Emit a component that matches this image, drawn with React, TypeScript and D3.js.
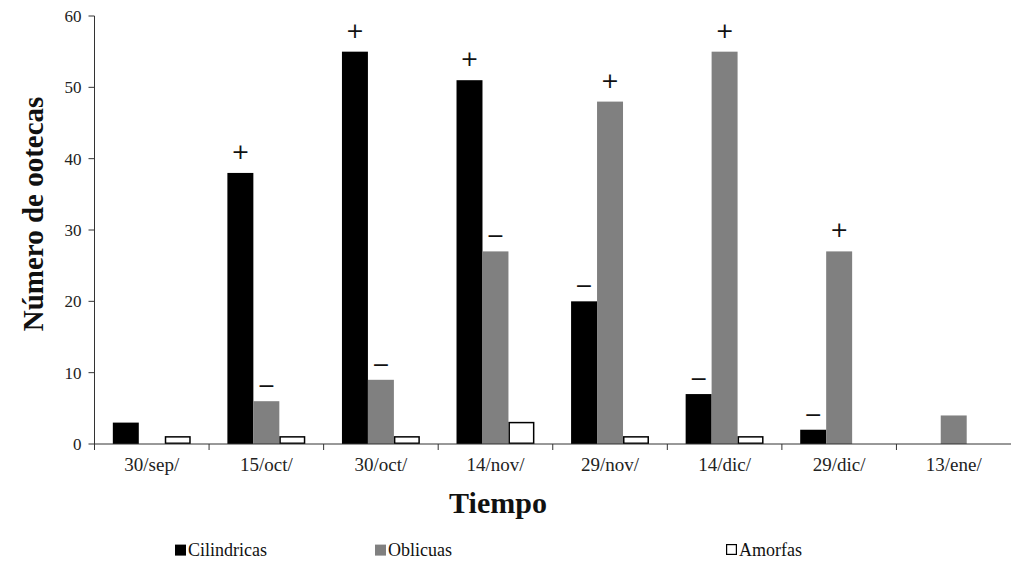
import React from "react";
import * as d3 from "d3";

const categories = ["30/sep/", "15/oct/", "30/oct/", "14/nov/", "29/nov/", "14/dic/", "29/dic/", "13/ene/"];
const seriesNames = ["Cilindricas", "Oblicuas", "Amorfas"];
const cilindricas = [3, 38, 55, 51, 20, 7, 2, 0];
const oblicuas = [0, 6, 9, 27, 48, 55, 27, 4];
const amorfas = [1, 1, 1, 3, 1, 1, 0, 0];
const cilMarks = ["", "+", "+", "+", "−", "−", "−", ""];
const oblMarks = ["", "−", "−", "−", "+", "+", "+", ""];
const yTicks = [0, 10, 20, 30, 40, 50, 60];

const fills = ["#000000", "#808080", "#ffffff"];
const FONT = "Times New Roman, Liberation Serif, Tinos, serif";

export default function App() {
  const W = 1012, H = 561;
  const left = 94.5, right = 1011, top = 16, bottom = 444;
  const x0 = d3.scaleBand<string>().domain(categories).range([left, right]).padding(0);
  const bw = x0.bandwidth();
  const x1 = d3.scaleBand<string>().domain(seriesNames).range([bw * 0.16, bw * 0.84]).padding(0);
  const y = d3.scaleLinear().domain([0, 60]).range([bottom, top]);
  const data = [cilindricas, oblicuas, amorfas];
  const marks = [cilMarks, oblMarks];

  const legendItems = [
    { name: "Cilindricas", x: 175 },
    { name: "Oblicuas", x: 375 },
    { name: "Amorfas", x: 726 },
  ];

  return (
    <svg width={W} height={H} style={{ position: "absolute", left: 0, top: 0, background: "#fff" }}>
      {categories.map((c, i) => (
        <g key={c} transform={`translate(${x0(c)},0)`}>
          {seriesNames.map((s, si) => {
            const v = data[si][i];
            if (v <= 0) return null;
            const bx = x1(s)!;
            const w = x1.bandwidth();
            if (si === 2) {
              return (
                <rect key={s} x={bx + 0.75} y={y(v)} width={w - 1.5} height={bottom - y(v) - 0.75}
                  fill="#fff" stroke="#000" strokeWidth={1.5} />
              );
            }
            return <rect key={s} x={bx} y={y(v)} width={w} height={bottom - y(v)} fill={fills[si]} />;
          })}
          {marks.map((m, si) => {
            const mk = m[i];
            if (!mk) return null;
            const s = seriesNames[si];
            const cx = x1(s)! + x1.bandwidth() / 2;
            const v = data[si][i];
            const ty = mk === "+" ? y(v) - 14 : y(v) - 8;
            return (
              <text key={s} x={cx} y={ty} textAnchor="middle" fontFamily="DejaVu Sans, sans-serif"
                fontSize={22} fill="#111">{mk}</text>
            );
          })}
        </g>
      ))}

      <line x1={left} x2={left} y1={top} y2={bottom} stroke="#333" strokeWidth={1} />
      {yTicks.map(t => (
        <g key={t}>
          <line x1={left - 6} x2={left} y1={y(t)} y2={y(t)} stroke="#333" strokeWidth={1} />
          <text x={left - 13} y={y(t) + 6} textAnchor="end" fontFamily={FONT} fontSize={17} fill="#222">{t}</text>
        </g>
      ))}

      <line x1={left} x2={right} y1={bottom} y2={bottom} stroke="#333" strokeWidth={1} />
      {categories.map(c => (
        <g key={c}>
          <line x1={x0(c)!} x2={x0(c)!} y1={bottom} y2={bottom + 6} stroke="#333" strokeWidth={1} />
          <text x={x0(c)! + bw / 2} y={bottom + 27} textAnchor="middle" fontFamily={FONT} fontSize={19} fill="#222">{c}</text>
        </g>
      ))}

      <text transform={`translate(43,214) rotate(-90)`} textAnchor="middle"
        fontFamily={FONT} fontWeight="bold" fontSize={29} fill="#111">Número de ootecas</text>
      <text x={498} y={513} textAnchor="middle" fontFamily={FONT} fontWeight="bold" fontSize={30} fill="#111">Tiempo</text>

      {legendItems.map((it, i) => (
        <g key={it.name}>
          <rect x={it.x + (i === 2 ? 0.6 : 0)} y={544.6} width={i === 2 ? 9.8 : 11} height={i === 2 ? 9.8 : 11}
            fill={fills[i]} stroke={i === 2 ? "#000" : "none"} strokeWidth={1.2} />
          <text x={it.x + 13} y={555.5} fontFamily={FONT} fontSize={18} fill="#111">{it.name}</text>
        </g>
      ))}
    </svg>
  );
}
